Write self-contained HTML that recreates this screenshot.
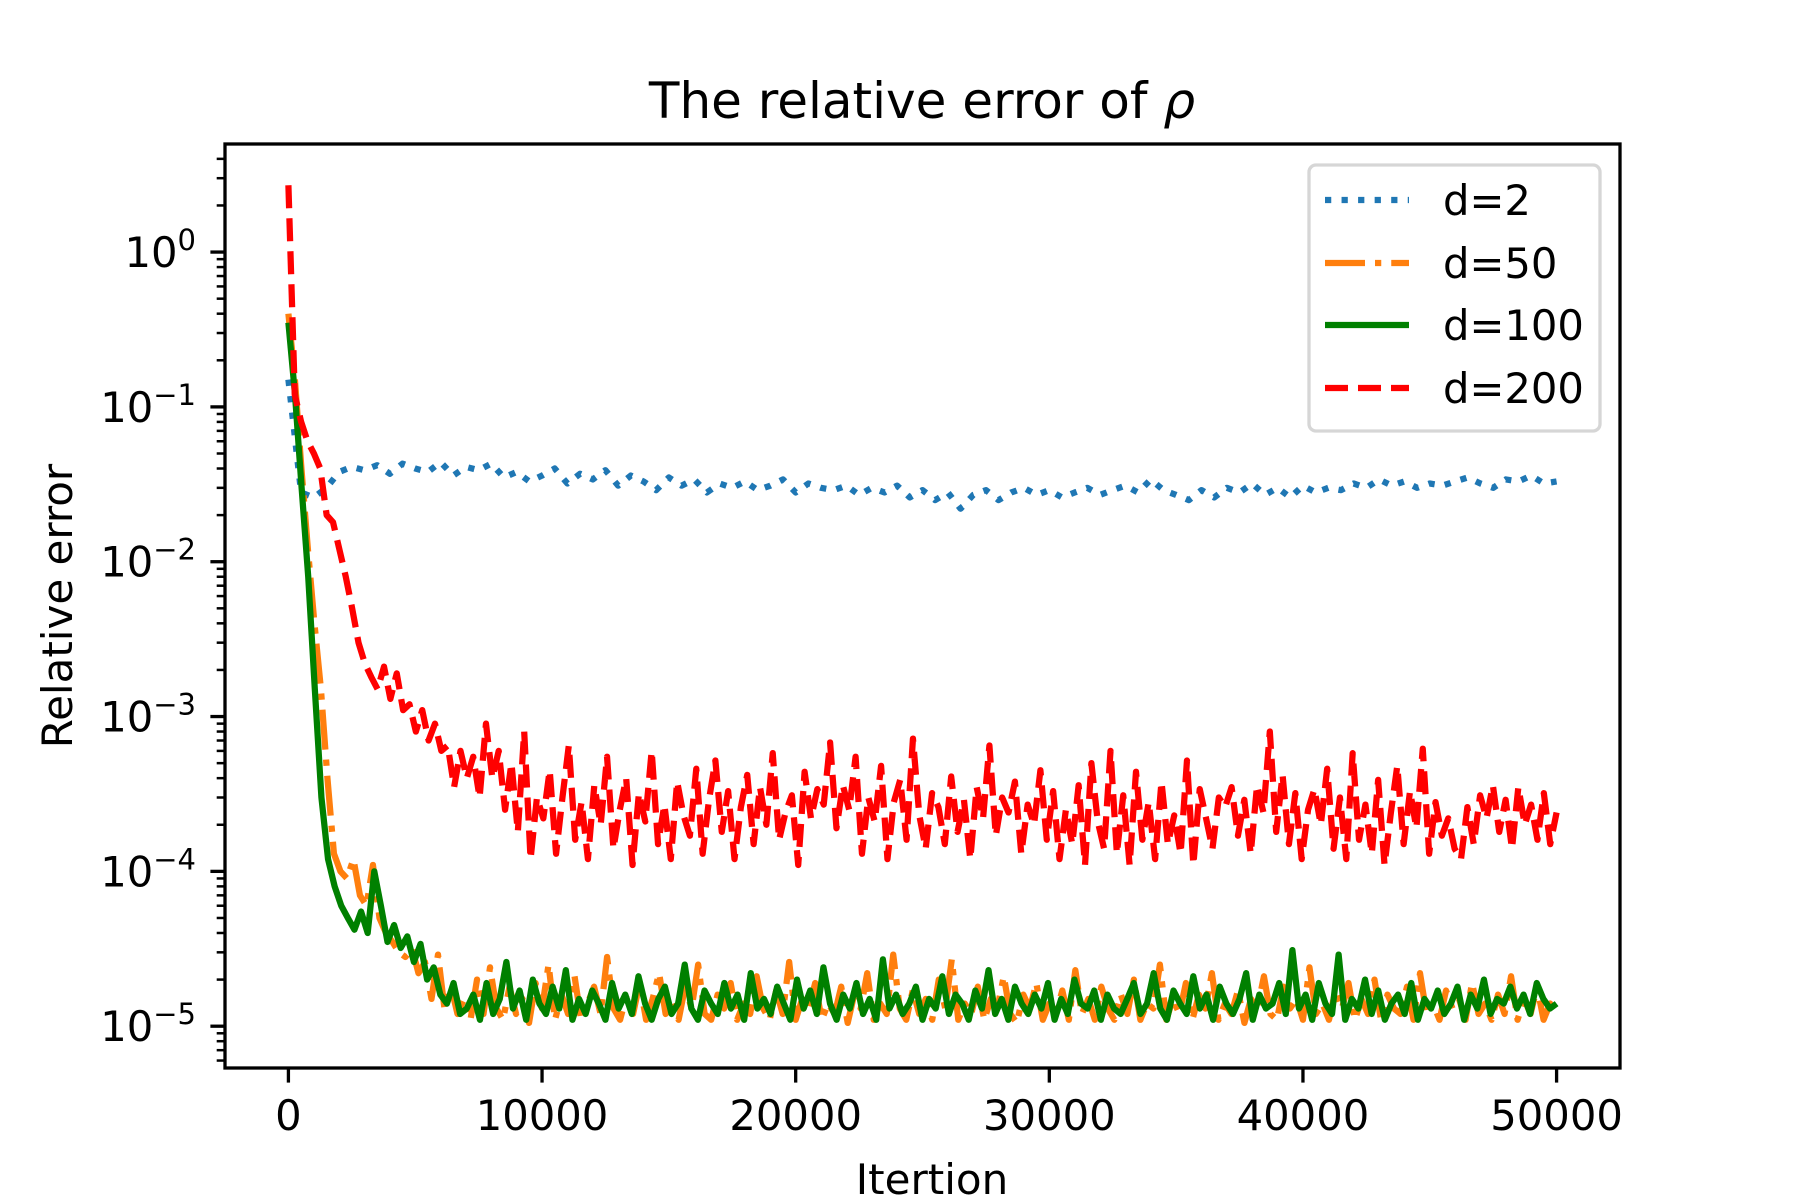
<!DOCTYPE html>
<html>
<head>
<meta charset="utf-8">
<style>
  html, body { margin: 0; padding: 0; background: #fff; }
  svg { display: block; font-family: "DejaVu Sans", "Liberation Sans", sans-serif; }
</style>
</head>
<body>
<svg id="chart" width="1800" height="1200" viewBox="0 0 1800 1200" xmlns="http://www.w3.org/2000/svg">
  <rect width="1800" height="1200" fill="#fff"/>
  <text x="922" y="118" font-size="50" text-anchor="middle">The relative error of <tspan font-style="italic">ρ</tspan></text>
  <defs><clipPath id="plotclip"><rect x="225" y="144" width="1395" height="924"/></clipPath></defs>
  <g id="series" clip-path="url(#plotclip)"></g>
  <g id="axes"></g>
  <text x="932" y="1194" font-size="42" text-anchor="middle">Itertion</text>
  <text transform="translate(72,606) rotate(-90)" font-size="42" text-anchor="middle">Relative error</text>
  <g id="legend"></g>
</svg>
<script>
// ---- data ----
const xTicks = [0, 10000, 20000, 30000, 40000, 50000];
const yTickExps = [0, -1, -2, -3, -4, -5];
const seriesNames = ["d=2", "d=50", "d=100", "d=200"];
const d2 = [0.15,0.028,0.026,0.03,0.038,0.041,0.039,0.042,0.037,0.043,0.040,0.038,0.044,0.036,0.041,0.039,0.043,0.035,0.038,0.033,0.036,0.040,0.032,0.037,0.034,0.039,0.031,0.036,0.033,0.029,0.035,0.031,0.034,0.028,0.032,0.030,0.033,0.029,0.031,0.034,0.028,0.032,0.030,0.029,0.031,0.027,0.030,0.028,0.031,0.026,0.029,0.025,0.028,0.022,0.027,0.029,0.025,0.028,0.030,0.027,0.029,0.026,0.028,0.030,0.027,0.029,0.031,0.028,0.034,0.029,0.027,0.025,0.029,0.026,0.030,0.028,0.032,0.027,0.030,0.026,0.031,0.028,0.030,0.029,0.032,0.030,0.034,0.031,0.033,0.030,0.032,0.031,0.033,0.035,0.032,0.030,0.034,0.033,0.036,0.032,0.033];
const d50 = [0.4,0.15,0.04,0.012,0.004,0.0015,0.0004,1.3e-4,1e-4,9e-5,1.2e-4,7e-5,6e-5,1.1e-4,5e-5,4e-5,3.5e-5,3e-5,2.8e-5,3.2e-5,2.2e-5,2.6e-5,1.5e-5,2.9e-5,1.3e-5,1.8e-5,1.2e-5,
1.5e-5,1.1e-5,2e-5,1.2e-5,2.4e-5,1.3e-5,1.1e-5,1.8e-5,1.2e-5,1.5e-5,1.05e-5,1.9e-5,1.3e-5,2.5e-5,1.1e-5,1.6e-5,1.2e-5,2.1e-5,1.1e-5,1.4e-5,1.8e-5,1.2e-5,2.8e-5,1.3e-5,1.1e-5,1.6e-5,1.2e-5,1.9e-5,1.1e-5,1.5e-5,2.2e-5,1.2e-5,1.4e-5,1.1e-5,1.8e-5,1.3e-5,2.5e-5,1.2e-5,1.1e-5,1.6e-5,1.3e-5,1.9e-5,1.1e-5,1.4e-5,1.2e-5,2.1e-5,1.3e-5,1.1e-5,1.7e-5,1.2e-5,2.6e-5,1.1e-5,1.5e-5,1.3e-5,1.9e-5,1.1e-5,1.4e-5,1.2e-5,1.8e-5,1.05e-5,1.6e-5,1.3e-5,2.2e-5,1.1e-5,1.4e-5,1.2e-5,2.9e-5,1.3e-5,1.1e-5,1.7e-5,1.2e-5,1.5e-5,1.1e-5,2e-5,1.3e-5,2.7e-5,1.1e-5,1.4e-5,1.2e-5,1.8e-5,1.1e-5,1.5e-5,1.3e-5,2.1e-5,1.2e-5,1.05e-5,1.6e-5,1.3e-5,1.9e-5,1.1e-5,1.4e-5,1.2e-5,1.7e-5,1.1e-5,2.3e-5,1.2e-5,1.5e-5,1.1e-5,1.8e-5,1.3e-5,1.1e-5,1.6e-5,1.2e-5,2e-5,1.1e-5,1.4e-5,1.3e-5,2.5e-5,1.1e-5,1.5e-5,1.2e-5,1.9e-5,1.1e-5,1.6e-5,1.3e-5,2.2e-5,1.1e-5,1.4e-5,1.2e-5,1.7e-5,1.05e-5,1.5e-5,1.3e-5,2.1e-5,1.2e-5,1.1e-5,1.8e-5,1.3e-5,1.5e-5,1.1e-5,2.4e-5,1.2e-5,1.4e-5,1.1e-5,1.7e-5,1.3e-5,1.9e-5,1.1e-5,1.5e-5,1.2e-5,2e-5,1.1e-5,1.6e-5,1.3e-5,1.2e-5,1.8e-5,1.1e-5,2.2e-5,1.2e-5,1.4e-5,1.1e-5,1.7e-5,1.3e-5,1.5e-5,1.1e-5,1.9e-5,1.2e-5,1.4e-5,1.1e-5,1.6e-5,1.2e-5,2.1e-5,1.1e-5,1.5e-5,1.2e-5,1.8e-5,1.1e-5,1.4e-5,1.2e-5];
const d100 = [0.35,0.12,0.03,0.008,0.0015,0.0003,0.00012,8e-5,6e-5,5e-5,4.2e-5,5.5e-5,4e-5,1e-4,6e-5,3.5e-5,4.5e-5,3.2e-5,3.8e-5,2.6e-5,3.4e-5,2e-5,2.4e-5,1.6e-5,1.4e-5,1.9e-5,1.2e-5,
1.3e-5,1.6e-5,1.1e-5,1.9e-5,1.2e-5,1.5e-5,2.6e-5,1.3e-5,1.7e-5,1.1e-5,2e-5,1.4e-5,1.2e-5,1.8e-5,1.3e-5,2.3e-5,1.1e-5,1.5e-5,1.2e-5,1.7e-5,1.4e-5,1.1e-5,1.9e-5,1.3e-5,1.6e-5,1.2e-5,2.1e-5,1.4e-5,1.1e-5,1.5e-5,1.8e-5,1.2e-5,1.4e-5,2.5e-5,1.3e-5,1.1e-5,1.7e-5,1.4e-5,1.2e-5,1.9e-5,1.3e-5,1.6e-5,1.1e-5,2.2e-5,1.3e-5,1.5e-5,1.2e-5,1.8e-5,1.4e-5,1.1e-5,2e-5,1.3e-5,1.7e-5,1.2e-5,2.4e-5,1.4e-5,1.1e-5,1.6e-5,1.3e-5,1.9e-5,1.2e-5,1.5e-5,1.1e-5,2.7e-5,1.3e-5,1.6e-5,1.2e-5,1.4e-5,1.8e-5,1.1e-5,1.5e-5,1.3e-5,2.1e-5,1.2e-5,1.6e-5,1.4e-5,1.1e-5,1.7e-5,1.3e-5,2.3e-5,1.2e-5,1.5e-5,1.1e-5,1.8e-5,1.4e-5,1.2e-5,1.6e-5,1.3e-5,1.9e-5,1.1e-5,1.5e-5,1.2e-5,2e-5,1.4e-5,1.3e-5,1.7e-5,1.1e-5,1.6e-5,1.3e-5,1.2e-5,1.5e-5,1.9e-5,1.2e-5,1.4e-5,2.2e-5,1.3e-5,1.1e-5,1.7e-5,1.4e-5,1.2e-5,2.1e-5,1.3e-5,1.6e-5,1.1e-5,1.8e-5,1.4e-5,1.2e-5,1.5e-5,2.2e-5,1.1e-5,1.6e-5,1.3e-5,1.4e-5,1.9e-5,1.2e-5,3.1e-5,1.3e-5,1.6e-5,1.1e-5,1.9e-5,1.4e-5,1.2e-5,2.9e-5,1.1e-5,1.5e-5,1.3e-5,2e-5,1.2e-5,1.7e-5,1.1e-5,1.4e-5,1.6e-5,1.2e-5,1.9e-5,1.1e-5,1.5e-5,1.3e-5,1.7e-5,1.2e-5,1.4e-5,1.8e-5,1.1e-5,1.6e-5,1.3e-5,2e-5,1.2e-5,1.5e-5,1.4e-5,1.8e-5,1.3e-5,1.6e-5,1.2e-5,1.9e-5,1.5e-5,1.3e-5,1.4e-5];
const d200 = [2.7,0.12,0.08,0.06,0.05,0.04,0.02,0.018,0.012,0.008,0.005,0.003,0.0022,0.0018,0.0015,0.0021,0.0013,0.0019,0.0011,0.0012,0.0008,0.0011,0.0007,0.0009,0.0006,0.00065,0.00035,0.0006,0.0004,0.00055,0.0003,0.0009,0.0004,0.0006,0.00025,0.0005,0.00018,0.0008,0.00012,0.0003,
2.2e-4,4.5e-4,1.3e-4,3e-4,6.5e-4,1.6e-4,2.8e-4,1.2e-4,3.6e-4,2e-4,5.5e-4,1.4e-4,2.5e-4,4e-4,1.1e-4,3.2e-4,2.1e-4,6e-4,1.5e-4,2.7e-4,1.2e-4,3.8e-4,2.3e-4,1.7e-4,4.6e-4,1.3e-4,2.9e-4,5.2e-4,1.8e-4,3.3e-4,1.2e-4,2.6e-4,4.2e-4,1.5e-4,3.5e-4,2e-4,5.8e-4,1.6e-4,2.4e-4,3.1e-4,1.1e-4,4.4e-4,2.2e-4,3.4e-4,2.7e-4,6.8e-4,1.9e-4,3.6e-4,2.5e-4,5.5e-4,1.3e-4,3e-4,2.1e-4,4.8e-4,1.2e-4,2.8e-4,3.9e-4,1.6e-4,7.2e-4,2.3e-4,1.4e-4,3.2e-4,2.6e-4,1.5e-4,4.1e-4,1.8e-4,2.9e-4,1.2e-4,3.5e-4,2.2e-4,6.5e-4,1.7e-4,3e-4,2.4e-4,3.8e-4,1.3e-4,2.7e-4,2e-4,4.5e-4,1.6e-4,3.3e-4,1.2e-4,2.5e-4,1.5e-4,3.6e-4,1.1e-4,5e-4,2.1e-4,1.4e-4,6e-4,1.3e-4,3.1e-4,1.1e-4,4.4e-4,1.6e-4,2.8e-4,1.2e-4,3.8e-4,1.5e-4,2.3e-4,1.3e-4,5.2e-4,1.1e-4,3.4e-4,2.2e-4,1.4e-4,3e-4,2.6e-4,3.5e-4,1.7e-4,2.9e-4,1.3e-4,3.6e-4,2.4e-4,8e-4,1.8e-4,4.2e-4,1.5e-4,3.2e-4,1.2e-4,2.5e-4,3.4e-4,2e-4,4.6e-4,1.4e-4,3e-4,1.2e-4,5.8e-4,1.6e-4,2.7e-4,1.3e-4,3.9e-4,1.1e-4,2.4e-4,4.8e-4,1.5e-4,3.3e-4,1.9e-4,6.2e-4,1.3e-4,2.8e-4,1.7e-4,2.2e-4,1.4e-4,1.2e-4,2.6e-4,1.5e-4,3.1e-4,2.2e-4,3.6e-4,1.8e-4,2.9e-4,1.4e-4,3.5e-4,2e-4,2.7e-4,1.6e-4,3.2e-4,1.5e-4,2.4e-4];

// ---- axes geometry ----
const L = 225, R = 1620, T = 144, B = 1068;
const xMin = -2500, xMax = 52500;
const yMinExp = -5.27, yMaxExp = 0.698;
const NS = "http://www.w3.org/2000/svg";
function xs(v) { return L + (v - xMin) / (xMax - xMin) * (R - L); }
function ys(v) { return B - (Math.log10(v) - yMinExp) / (yMaxExp - yMinExp) * (B - T); }
function mk(tag, attrs, parent) {
  const e = document.createElementNS(NS, tag);
  for (const k in attrs) e.setAttribute(k, attrs[k]);
  parent.appendChild(e);
  return e;
}

const seriesG = document.getElementById('series');
const styles = [
  { color: '#1f77b4', dash: '6.25,10.3' },
  { color: '#ff7f0e', dash: '40,10,6.25,10' },
  { color: '#008000', dash: '' },
  { color: '#ff0000', dash: '23,10' }
];
const allData = [d2, d50, d100, d200];
const lineNames = ['line-d2', 'line-d50', 'line-d100', 'line-d200'];
allData.forEach((arr, si) => {
  const step = 50000 / (arr.length - 1);
  const pts = arr.map((v, i) => xs(i * step).toFixed(2) + ',' + ys(v).toFixed(2)).join(' ');
  const st = styles[si];
  const pl = mk('polyline', { points: pts, fill: 'none', stroke: st.color, 'stroke-width': 6.25, 'stroke-linejoin': 'round', 'stroke-linecap': 'butt' }, seriesG);
  if (st.dash) pl.setAttribute('stroke-dasharray', st.dash);
  
  
});

// ---- axes ----
const ax = document.getElementById('axes');
const frame = mk('rect', { x: L, y: T, width: R - L, height: B - T, fill: 'none', stroke: '#000', 'stroke-width': 3.3 }, ax);



xTicks.forEach(v => {
  const x = xs(v);
  const t = mk('line', { x1: x, y1: B, x2: x, y2: B + 14.6, stroke: '#000', 'stroke-width': 3.3 }, ax);
  
  
  const lb = mk('text', { x: x, y: B + 62, 'font-size': 41.7, 'text-anchor': 'middle' }, ax);
  lb.textContent = String(v);
  
  
});

for (let e = -6; e <= 1; e++) {
  for (let m = 2; m <= 9; m++) {
    const v = m * Math.pow(10, e);
    const y = ys(v);
    if (y < T || y > B) continue;
    const t = mk('line', { x1: L, y1: y, x2: L - 8.3, y2: y, stroke: '#000', 'stroke-width': 2.5 }, ax);
    
    
  }
}
yTickExps.forEach(e => {
  const y = ys(Math.pow(10, e));
  const t = mk('line', { x1: L, y1: y, x2: L - 14.6, y2: y, stroke: '#000', 'stroke-width': 3.3 }, ax);
  
  
  const lb = mk('text', { x: 196, y: y + 15, 'font-size': 41.7, 'text-anchor': 'end' }, ax);
  const base = document.createElementNS(NS, 'tspan');
  base.textContent = '10';
  lb.appendChild(base);
  const sup = document.createElementNS(NS, 'tspan');
  sup.setAttribute('dy', -17);
  sup.setAttribute('font-size', 29);
  sup.textContent = e === 0 ? '0' : '\u2212' + (-e);
  lb.appendChild(sup);
  
  
});

// ---- legend ----
const lg = document.getElementById('legend');
const box = mk('rect', { x: 1309, y: 165, width: 291, height: 266, rx: 7, fill: '#fff', 'fill-opacity': 0.8, stroke: '#d6d6d6', 'stroke-width': 3.3 }, lg);


const legY = [200, 263, 325, 388];
seriesNames.forEach((nm, i) => {
  const st = styles[i];
  const ln = mk('line', { x1: 1325, y1: legY[i], x2: 1409, y2: legY[i], stroke: st.color, 'stroke-width': 6.25 }, lg);
  if (st.dash) ln.setAttribute('stroke-dasharray', st.dash);
  
  
  const tx = mk('text', { x: 1443, y: legY[i] + 15, 'font-size': 41.7 }, lg);
  tx.textContent = nm;
  
  
});
</script>
</body>
</html>
